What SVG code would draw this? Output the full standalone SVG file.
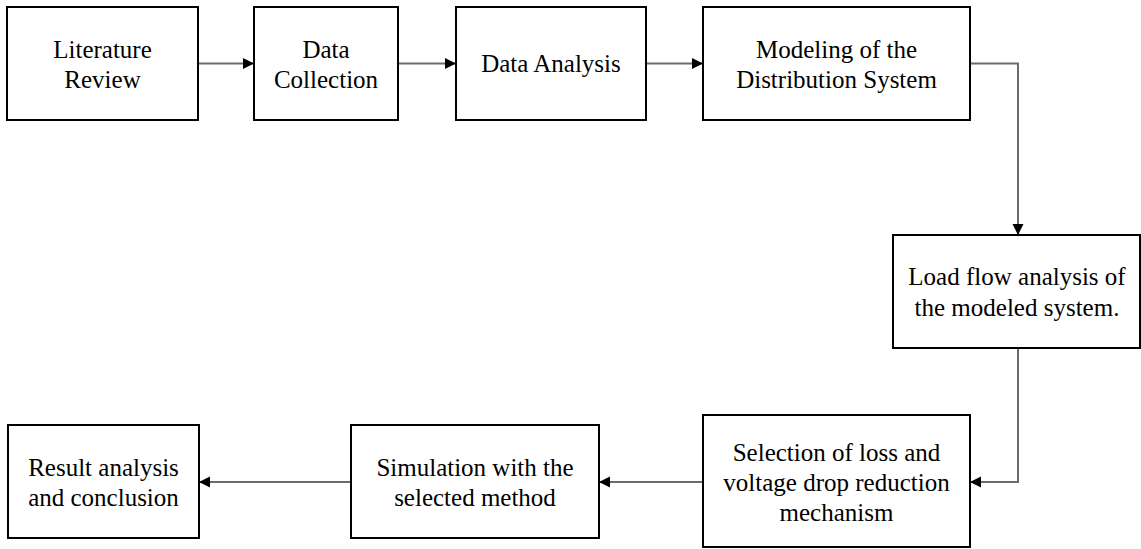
<svg xmlns="http://www.w3.org/2000/svg" width="1141" height="549" viewBox="0 0 1141 549">
<style>
.box{fill:#fff;stroke:#000;stroke-width:2}
.lbl{font-family:"Liberation Serif","Times New Roman",serif;font-size:25px;fill:#000;text-anchor:middle}
.con{fill:none;stroke:#6b6b6b;stroke-width:2}
</style>
<defs>
<marker id="ah" markerUnits="userSpaceOnUse" markerWidth="12" markerHeight="12" refX="11" refY="5.5" orient="auto">
<path d="M0,0 L11,5.5 L0,11 z" fill="#000"/>
</marker>
</defs>
<rect width="1141" height="549" fill="#fff"/>
<g id="connectors">
<line class="con" x1="199" y1="63.5" x2="254" y2="63.5" marker-end="url(#ah)"/>
<line class="con" x1="398" y1="63.5" x2="456" y2="63.5" marker-end="url(#ah)"/>
<line class="con" x1="646" y1="63.5" x2="703" y2="63.5" marker-end="url(#ah)"/>
<path class="con" d="M970,63.5 H1018 V235" marker-end="url(#ah)"/>
<path class="con" d="M1018,348 V482 H970" marker-end="url(#ah)"/>
<line class="con" x1="703" y1="482" x2="599" y2="482" marker-end="url(#ah)"/>
<line class="con" x1="351" y1="482" x2="199" y2="482" marker-end="url(#ah)"/>
</g>
<g id="n1"><rect class="box" x="7" y="7" width="191" height="113"/>
<text class="lbl" x="102.5"><tspan x="102.5" y="58">Literature</tspan><tspan x="102.5" y="88">Review</tspan></text></g>
<g id="n2"><rect class="box" x="254" y="7" width="144" height="113"/>
<text class="lbl"><tspan x="326" y="58">Data</tspan><tspan x="326" y="88">Collection</tspan></text></g>
<g id="n3"><rect class="box" x="456" y="7" width="190" height="113"/>
<text class="lbl" x="551" y="72">Data Analysis</text></g>
<g id="n4"><rect class="box" x="703" y="7" width="267" height="113"/>
<text class="lbl"><tspan x="836.5" y="58">Modeling of the</tspan><tspan x="836.5" y="88">Distribution System</tspan></text></g>
<g id="n5"><rect class="box" x="893" y="235" width="247" height="113"/>
<text class="lbl"><tspan x="1017" y="285">Load flow analysis of</tspan><tspan x="1017" y="316">the modeled system.</tspan></text></g>
<g id="n6"><rect class="box" x="8" y="425" width="191" height="113"/>
<text class="lbl"><tspan x="103.5" y="476">Result analysis</tspan><tspan x="103.5" y="506">and conclusion</tspan></text></g>
<g id="n7"><rect class="box" x="351" y="425" width="248" height="113"/>
<text class="lbl"><tspan x="475" y="476">Simulation with the</tspan><tspan x="475" y="506">selected method</tspan></text></g>
<g id="n8"><rect class="box" x="703" y="415" width="267" height="132"/>
<text class="lbl"><tspan x="836.5" y="461">Selection of loss and</tspan><tspan x="836.5" y="491">voltage drop reduction</tspan><tspan x="836.5" y="521">mechanism</tspan></text></g>
</svg>
